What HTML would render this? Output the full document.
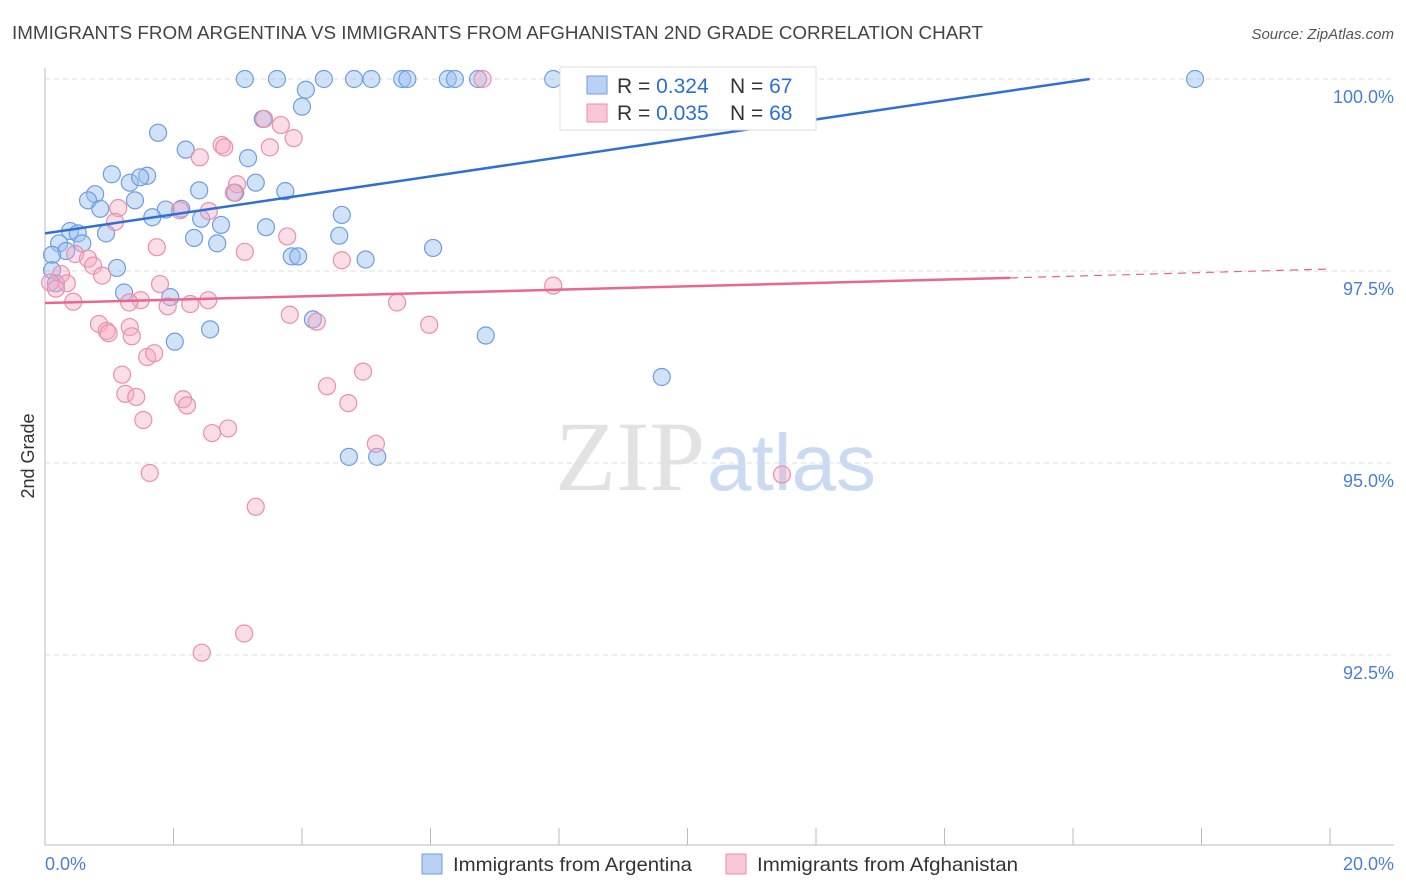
<!DOCTYPE html>
<html><head><meta charset="utf-8"><style>
body{margin:0;background:#fff;font-family:"Liberation Sans",sans-serif;}
svg{display:block}
</style></head><body>
<svg id="chart" width="1406" height="892" xmlns="http://www.w3.org/2000/svg">
<text x="12" y="39" font-size="18" fill="#444" textLength="971" lengthAdjust="spacingAndGlyphs">IMMIGRANTS FROM ARGENTINA VS IMMIGRANTS FROM AFGHANISTAN 2ND GRADE CORRELATION CHART</text>
<text x="1394" y="39" font-size="15" fill="#555" text-anchor="end" font-style="italic">Source: ZipAtlas.com</text>
<text x="555" y="490" font-size="100" fill="#e2e2e2" font-family="Liberation Serif,serif">ZIP<tspan fill="#c9daf2" font-family="Liberation Sans,sans-serif" font-size="80" dx="2">atlas</tspan></text>
<g id="grid"></g>
<g id="axes"></g>
<g id="pts"></g>
<g id="trend"></g>
<text transform="translate(34,456) rotate(-90)" font-size="18" fill="#333" text-anchor="middle">2nd Grade</text>
<text x="45" y="870" font-size="18" fill="#4a7fd6">0.0%</text>
<text x="1394" y="870" font-size="18" fill="#4a7fd6" text-anchor="end">20.0%</text>
<g>
<rect x="560" y="67" width="256" height="63" fill="#fff" stroke="#ddd"/>
<rect x="587" y="76" width="20" height="18" fill="#b9d1f3" stroke="#6f9de0"/>
<rect x="587" y="104" width="20" height="18" fill="#f8c6d5" stroke="#ea8fab"/>
<text x="617" y="93" font-size="21" fill="#333">R = <tspan fill="#2a6fd6">0.324</tspan></text>
<text x="730" y="93" font-size="21" fill="#333">N = <tspan fill="#2a6fd6">67</tspan></text>
<text x="617" y="120" font-size="21" fill="#333">R = <tspan fill="#2a6fd6">0.035</tspan></text>
<text x="730" y="120" font-size="21" fill="#333">N = <tspan fill="#2a6fd6">68</tspan></text>
</g>
<g>
<rect x="422" y="854" width="20" height="20" fill="#b9d1f3" stroke="#6f9de0"/>
<text x="453" y="871" font-size="19.5" fill="#333" textLength="239" lengthAdjust="spacingAndGlyphs">Immigrants from Argentina</text>
<rect x="726" y="854" width="20" height="20" fill="#f8c6d5" stroke="#ea8fab"/>
<text x="757" y="871" font-size="19.5" fill="#333" textLength="261" lengthAdjust="spacingAndGlyphs">Immigrants from Afghanistan</text>
</g>
</svg>
<script>
const yTicks=[100,97.5,95,92.5];
const yTickLabels=["100.0%","97.5%","95.0%","92.5%"];
const xTicks=[0,2,4,6,8,10,12,14,16,18,20];
const argX=[3.11,3.61,4.34,4.81,5.08,5.56,5.64,6.27,6.38,6.74,7.91,8.17,17.9,8.95,10.85,4.06,4.0,3.39,1.76,2.19,3.16,1.04,1.32,1.59,1.48,0.78,0.67,0.86,1.4,2.4,3.28,3.74,2.96,1.88,2.12,1.67,2.43,2.74,4.62,3.44,0.39,0.51,0.95,2.32,2.68,4.58,0.58,0.22,0.33,6.04,3.84,3.94,4.99,1.12,0.11,0.11,0.17,1.23,1.95,2.57,2.02,4.17,6.86,9.6,4.73,5.17];
const argY=[100,100,100,100,100,100,100,100,100,100,100,100,100,100,99.73,99.86,99.64,99.48,99.3,99.08,98.97,98.76,98.65,98.74,98.72,98.5,98.42,98.31,98.42,98.55,98.65,98.54,98.52,98.3,98.31,98.2,98.18,98.1,98.23,98.07,98.02,97.99,97.99,97.93,97.86,97.96,97.86,97.86,97.76,97.8,97.69,97.69,97.65,97.54,97.71,97.51,97.34,97.22,97.16,96.74,96.58,96.87,96.66,96.12,95.08,95.08];
const afgX=[6.81,10.41,3.41,3.67,3.87,2.75,2.79,3.5,2.41,2.99,2.94,1.14,2.55,2.1,1.09,1.74,3.11,3.77,4.62,0.47,0.67,0.75,0.89,0.25,0.34,0.08,0.17,0.44,1.79,1.49,1.91,2.26,2.54,1.31,5.48,7.91,0.84,0.96,0.99,1.32,1.35,3.81,4.23,5.98,1.59,1.7,1.2,1.25,1.42,1.53,2.15,2.21,2.6,2.85,4.39,4.95,4.72,5.15,1.63,3.28,3.1,2.44,11.47];
const afgY=[100,100,99.48,99.4,99.23,99.14,99.11,99.11,98.98,98.63,98.52,98.32,98.28,98.29,98.14,97.81,97.75,97.95,97.64,97.72,97.66,97.57,97.44,97.46,97.34,97.35,97.27,97.1,97.33,97.12,97.04,97.07,97.12,97.09,97.09,97.31,96.81,96.72,96.69,96.77,96.65,96.93,96.84,96.8,96.38,96.43,96.15,95.9,95.86,95.56,95.83,95.75,95.39,95.45,96.0,96.19,95.78,95.25,94.87,94.43,92.78,92.53,94.85];
const blueTrend=[[0,97.99],[16.26,100]];
const pinkTrend=[[0,97.083],[15.02,97.41],[20,97.526]];
const X0=45,X1=1330,Y100=79,PX=192/2.5;
const sx=v=>X0+(v/20)*(X1-X0);
const sy=v=>Y100+(100-v)*PX;
const NS="http://www.w3.org/2000/svg";
function mk(t,a,p){const e=document.createElementNS(NS,t);for(const k in a)e.setAttribute(k,a[k]);p.appendChild(e);return e;}
const grid=document.getElementById('grid'),axes=document.getElementById('axes');
yTicks.forEach((t,i)=>{
 const l=mk('line',{x1:X0,x2:1394,y1:sy(t),y2:sy(t),stroke:'#ddd','stroke-dasharray':'5,4'},grid);
 
 
 const tx=mk('text',{x:1394,y:sy(t)+24,'font-size':18,fill:'#4a7fd6','text-anchor':'end'},axes);
 tx.textContent=yTickLabels[i];
 
 
});
const ya=mk('line',{x1:X0,x2:X0,y1:68,y2:845,stroke:'#bbb'},axes);


const xa=mk('line',{x1:X0,x2:1394,y1:845,y2:845,stroke:'#bbb'},axes);


xTicks.forEach(t=>{
 const l=mk('line',{x1:sx(t),x2:sx(t),y1:828,y2:845,stroke:'#bbb'},axes);
 
 
});
const pts=document.getElementById('pts');
argX.forEach((x,i)=>{
 const c=mk('circle',{cx:sx(x),cy:sy(argY[i]),r:8.5,fill:'rgba(150,190,240,0.45)',stroke:'#6f9de0','stroke-width':1.2},pts);
 
 
});
afgX.forEach((x,i)=>{
 const c=mk('circle',{cx:sx(x),cy:sy(afgY[i]),r:8.5,fill:'rgba(245,170,195,0.4)',stroke:'#ea8fab','stroke-width':1.2},pts);
 
 
});
const tr=document.getElementById('trend');
const bl=mk('line',{x1:sx(blueTrend[0][0]),y1:sy(blueTrend[0][1]),x2:sx(blueTrend[1][0]),y2:sy(blueTrend[1][1]),stroke:'#2f6fd6','stroke-width':2.5},tr);


const pl=mk('line',{x1:sx(pinkTrend[0][0]),y1:sy(pinkTrend[0][1]),x2:sx(pinkTrend[1][0]),y2:sy(pinkTrend[1][1]),stroke:'#e8668f','stroke-width':2.5},tr);


const pd=mk('line',{x1:sx(pinkTrend[1][0]),y1:sy(pinkTrend[1][1]),x2:sx(pinkTrend[2][0]),y2:sy(pinkTrend[2][1]),stroke:'#e8668f','stroke-width':1.2,'stroke-dasharray':'8,6'},tr);


</script>
</body></html>
